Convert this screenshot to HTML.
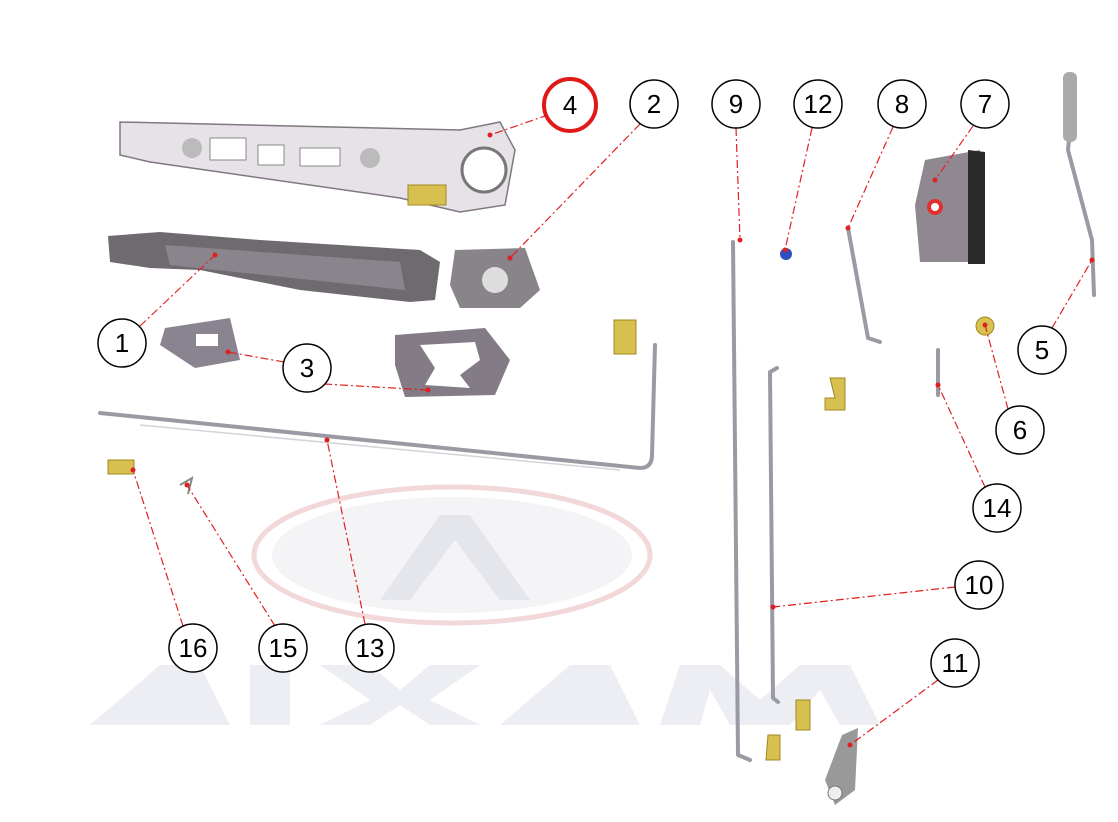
<!DOCTYPE html>
<html><head><meta charset="utf-8"><style>
html,body{margin:0;padding:0;background:#fff;width:1118px;height:822px;overflow:hidden}
svg{display:block}
text{font-family:"Liberation Sans",sans-serif;font-size:26px;fill:#000;text-anchor:middle}
.c{fill:#fff;stroke:#000;stroke-width:1.5}
.l{stroke:#e02020;stroke-width:1.2;stroke-dasharray:8,3,2,3;fill:none}
.d{fill:#e02020}
.rod{stroke:#9a9aa4;stroke-width:4;fill:none;stroke-linecap:round;stroke-linejoin:round}
.rodl{stroke:#d4d4dc;stroke-width:1.5;fill:none}
.gold{fill:#d8c050;stroke:#a08820;stroke-width:1}
</style></head><body>
<svg width="1118" height="822" viewBox="0 0 1118 822">
<!-- watermark -->
<ellipse cx="452" cy="555" rx="198" ry="68" fill="none" stroke="#f2d8d8" stroke-width="5"/>
<ellipse cx="452" cy="555" rx="180" ry="58" fill="#f4f4f6"/>
<path d="M380 600 L440 515 L470 515 L530 600 L500 600 L455 540 L410 600 Z" fill="#e4e6ec"/>
<path d="M90 725 L160 665 L200 665 L230 725 Z M250 665 L290 665 L290 725 L250 725 Z M320 665 L370 665 L400 690 L430 665 L480 665 L430 700 L480 725 L430 725 L400 705 L370 725 L320 725 L370 700 Z M500 725 L570 665 L610 665 L640 725 Z M660 725 L680 665 L720 665 L760 700 L800 665 L850 665 L880 725 L840 725 L820 690 L790 725 L730 725 L710 690 L700 725 Z" fill="#eceef3"/>
<!-- part 4 frame -->
<path d="M120 122 L460 130 L500 122 L515 150 L505 205 L460 212 L400 198 L150 162 L120 155 Z" fill="#e6e2e8" stroke="#807880" stroke-width="1.5"/>
<rect x="210" y="138" width="36" height="22" fill="#fff" stroke="#888"/>
<rect x="258" y="145" width="26" height="20" fill="#fff" stroke="#888"/>
<rect x="300" y="148" width="40" height="18" fill="#fff" stroke="#888"/>
<circle cx="192" cy="148" r="10" fill="#bbb"/><circle cx="370" cy="158" r="10" fill="#bbb"/>
<circle cx="484" cy="170" r="22" fill="#fff" stroke="#777" stroke-width="3"/>
<rect x="408" y="185" width="38" height="20" class="gold"/>
<!-- part 1 handle -->
<path d="M108 236 L160 232 L260 240 L420 250 L440 262 L435 300 L410 302 L300 290 L200 270 L150 268 L110 262 Z" fill="#6f6a70"/>
<path d="M165 245 L400 262 L405 290 L170 265 Z" fill="#8a858c"/>
<!-- part 2 -->
<path d="M455 250 L525 248 L540 290 L520 308 L460 308 L450 285 Z" fill="#888489"/>
<circle cx="495" cy="280" r="13" fill="#ddd"/>
<!-- part 3 gaskets -->
<path d="M165 328 L230 318 L240 360 L195 368 L160 345 Z" fill="#8a8490"/>
<rect x="196" y="334" width="22" height="12" fill="#fff"/>
<path d="M395 335 L485 328 L510 360 L495 395 L405 397 L395 365 Z" fill="#837b85"/>
<path d="M420 345 L475 342 L480 360 L460 375 L470 388 L425 385 L435 368 Z" fill="#fff"/>
<!-- rod 13 -->
<path class="rod" d="M100 413 L640 468 Q652 468 652 455 L655 345"/>
<path class="rodl" d="M140 425 L620 470"/>
<rect x="614" y="320" width="22" height="34" class="gold"/>
<rect x="108" y="460" width="26" height="14" class="gold"/>
<path d="M180 485 L192 478 L188 494" stroke="#888" stroke-width="2" fill="none"/>
<!-- rods 9,10 -->
<path class="rod" d="M733 242 L738 755 L750 760"/>
<path class="rod" d="M777 368 L770 372 L773 698 L778 702"/>
<path class="rod" d="M848 228 L868 338 L880 342"/>
<path class="rod" d="M1075 78 L1068 150 L1092 240 L1094 295"/>
<rect x="1063" y="72" width="14" height="70" rx="6" fill="#aaa"/>
<path class="rod" d="M938 350 L938 395"/>
<!-- part 12 -->
<circle cx="786" cy="254" r="6" fill="#3050c0"/>
<!-- part 7 -->
<path d="M925 160 L980 150 L985 262 L920 262 L915 205 Z" fill="#8f8890"/>
<path d="M968 150 L985 152 L985 264 L968 264 Z" fill="#2a2a2a"/>
<circle cx="935" cy="207" r="8" fill="#e03030"/><circle cx="935" cy="207" r="4" fill="#fff"/>
<!-- part 6 -->
<circle cx="985" cy="326" r="9" class="gold"/>
<!-- golds -->
<path d="M830 378 L845 378 L845 410 L825 410 L825 398 L835 398 Z" class="gold"/>
<path d="M796 700 L810 700 L810 730 L796 730 Z" class="gold"/>
<path d="M768 735 L780 735 L780 760 L766 760 Z" class="gold"/>
<!-- part 11 -->
<path d="M842 735 L858 728 L855 790 L835 805 L825 780 Z" fill="#999"/>
<circle cx="835" cy="793" r="7" fill="#eee" stroke="#777"/>
<!-- leaders -->
<g class="l">
<line x1="548" y1="115" x2="490" y2="135"/>
<line x1="640" y1="124" x2="510" y2="258"/>
<line x1="736" y1="128" x2="740" y2="240"/>
<line x1="812" y1="128" x2="785" y2="250"/>
<line x1="893" y1="127" x2="848" y2="228"/>
<line x1="973" y1="126" x2="935" y2="180"/>
<line x1="1052" y1="328" x2="1092" y2="260"/>
<line x1="140" y1="326" x2="215" y2="255"/>
<line x1="284" y1="362" x2="228" y2="352"/>
<line x1="324" y1="384" x2="428" y2="390"/>
<line x1="1008" y1="409" x2="985" y2="325"/>
<line x1="985" y1="487" x2="938" y2="385"/>
<line x1="955" y1="587" x2="773" y2="607"/>
<line x1="938" y1="680" x2="850" y2="745"/>
<line x1="183" y1="626" x2="133" y2="470"/>
<line x1="275" y1="626" x2="187" y2="485"/>
<line x1="365" y1="624" x2="327" y2="440"/>
</g>
<g class="d">
<circle cx="490" cy="135" r="2.5"/><circle cx="510" cy="258" r="2.5"/><circle cx="740" cy="240" r="2.5"/><circle cx="785" cy="250" r="2.5"/><circle cx="848" cy="228" r="2.5"/><circle cx="935" cy="180" r="2.5"/><circle cx="1092" cy="260" r="2.5"/><circle cx="215" cy="255" r="2.5"/><circle cx="228" cy="352" r="2.5"/><circle cx="428" cy="390" r="2.5"/><circle cx="985" cy="325" r="2.5"/><circle cx="938" cy="385" r="2.5"/><circle cx="773" cy="607" r="2.5"/><circle cx="850" cy="745" r="2.5"/><circle cx="133" cy="470" r="2.5"/><circle cx="187" cy="485" r="2.5"/><circle cx="327" cy="440" r="2.5"/>
</g>
<!-- circles -->
<circle cx="570" cy="105" r="26" fill="#fff" stroke="#e01818" stroke-width="4"/><text x="570" y="114">4</text>
<circle class="c" cx="654" cy="104" r="24"/><text x="654" y="113">2</text>
<circle class="c" cx="736" cy="104" r="24"/><text x="736" y="113">9</text>
<circle class="c" cx="818" cy="104" r="24"/><text x="818" y="113">12</text>
<circle class="c" cx="902" cy="104" r="24"/><text x="902" y="113">8</text>
<circle class="c" cx="985" cy="104" r="24"/><text x="985" y="113">7</text>
<circle class="c" cx="1042" cy="350" r="24"/><text x="1042" y="359">5</text>
<circle class="c" cx="122" cy="343" r="24"/><text x="122" y="352">1</text>
<circle class="c" cx="307" cy="368" r="24"/><text x="307" y="377">3</text>
<circle class="c" cx="1020" cy="430" r="24"/><text x="1020" y="439">6</text>
<circle class="c" cx="997" cy="508" r="24"/><text x="997" y="517">14</text>
<circle class="c" cx="979" cy="585" r="24"/><text x="979" y="594">10</text>
<circle class="c" cx="955" cy="663" r="24"/><text x="955" y="672">11</text>
<circle class="c" cx="193" cy="648" r="24"/><text x="193" y="657">16</text>
<circle class="c" cx="283" cy="648" r="24"/><text x="283" y="657">15</text>
<circle class="c" cx="370" cy="648" r="24"/><text x="370" y="657">13</text>
</svg>
</body></html>
